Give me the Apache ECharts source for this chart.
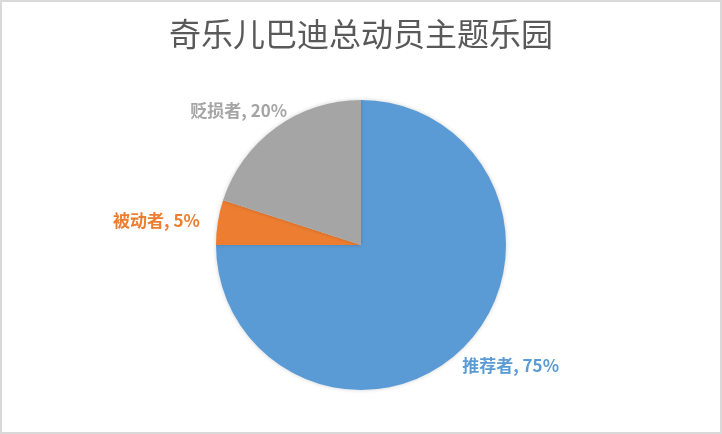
<!DOCTYPE html>
<html>
<head>
<meta charset="utf-8">
<script src="https://cdn.jsdelivr.net/npm/echarts@6/dist/echarts.min.js"></script>
<style>
html,body{margin:0;padding:0;background:#fff;}
#wrap{width:722px;height:434px;box-sizing:border-box;border:2px solid #D9D9D9;position:relative;overflow:hidden;}
#chart{position:absolute;left:-2px;top:-2px;width:722px;height:434px;}
</style>
</head>
<body>
<div id="wrap"><div id="chart"></div></div>
<script>
const titleText = '奇乐儿巴迪总动员主题乐园';
const categories = ['推荐者', '被动者', '贬损者'];
const values = [75, 5, 20];
const colors = ['#5B9BD5', '#ED7D31', '#A5A5A5'];
// small nudges of each data label (Excel best-fit placement)
const labelNudge = [[-12, 12], [-5, -1], [21, -11]];

const chart = echarts.init(document.getElementById('chart'));
chart.setOption({
  animation: false,
  title: {
    text: titleText,
    left: 'center',
    top: 13,
    textStyle: {
      fontSize: 32,
      fontWeight: 'normal',
      color: '#595959',
      fontFamily: '"Noto Sans CJK SC", sans-serif'
    }
  },
  series: [{
    type: 'pie',
    center: [361, 245],
    radius: 145,
    startAngle: 90,
    clockwise: true,
    data: categories.map((c, i) => ({
      name: c,
      value: values[i],
      itemStyle: { color: colors[i] },
      label: { color: colors[i] }
    })),
    itemStyle: {
      borderWidth: 0,
      shadowBlur: 4,
      shadowColor: 'rgba(0,0,0,0.18)'
    },
    label: {
      show: true,
      position: 'outside',
      formatter: p => p.name + ', ' + p.value + '%',
      fontSize: 17,
      fontWeight: 'bold',
      fontFamily: '"Noto Sans CJK SC", sans-serif'
    },
    labelLine: { show: false, length: 8, length2: 0 },
    labelLayout: p => ({ dx: labelNudge[p.dataIndex][0], dy: labelNudge[p.dataIndex][1] })
  }]
});
</script>
</body>
</html>
